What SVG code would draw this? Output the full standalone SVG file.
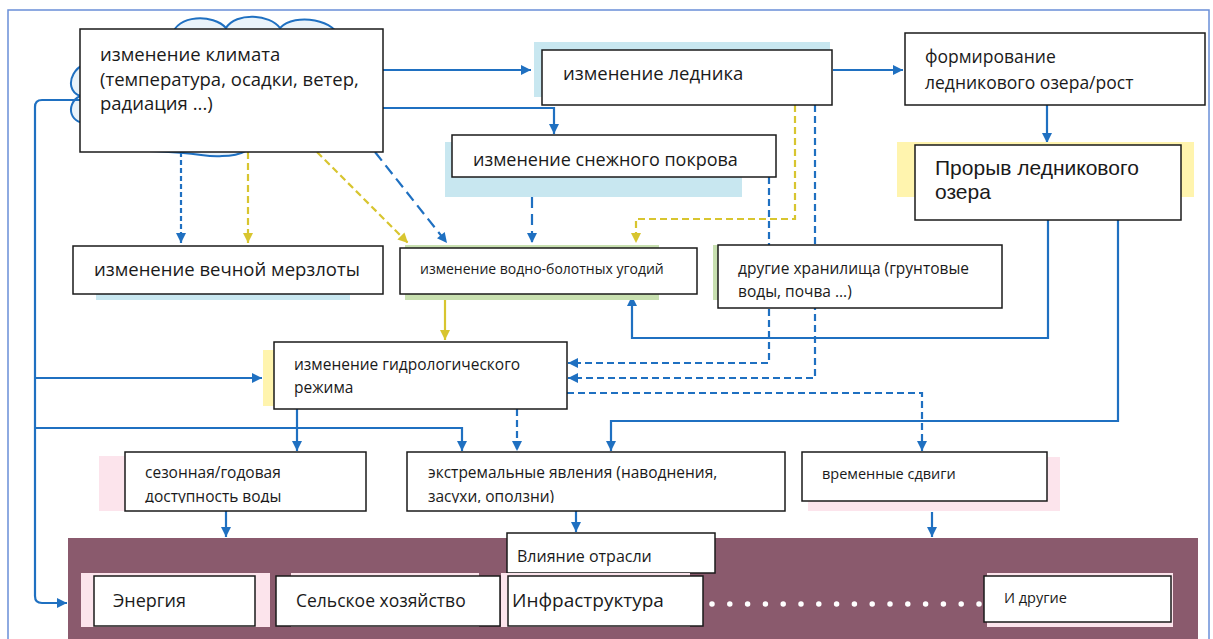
<svg xmlns="http://www.w3.org/2000/svg" width="1213" height="639" viewBox="0 0 1213 639">
<defs>
<style>
.box{fill:#fff;stroke:#1a1a1a;stroke-width:1.5}
.t{font-family:"Open Sans","Noto Sans",sans-serif;fill:#1a1a1a}
.ta{font-family:"Liberation Sans",Arial,sans-serif;fill:#1a1a1a}
.c{fill:none;stroke:#1F70C1;stroke-width:2.2}
.cy{fill:none;stroke:#D8C52F;stroke-width:2.2}
.dot{stroke-dasharray:5 3}
.dsh{stroke-dasharray:7 4}
.lng{stroke-dasharray:11 6}
.lb{fill:#C8E7F0}
.yb{fill:#FFF4AE}
.gb{fill:#C8E0B0}
.pb{fill:#FCE4EC}
</style>
<marker id="ab" viewBox="0 0 10 10" refX="10" refY="5" markerWidth="11" markerHeight="10" markerUnits="userSpaceOnUse" orient="auto"><path d="M0,0 L10,5 L0,10 Z" fill="#1F70C1"/></marker>
<marker id="ay" viewBox="0 0 10 10" refX="10" refY="5" markerWidth="11" markerHeight="10" markerUnits="userSpaceOnUse" orient="auto"><path d="M0,0 L10,5 L0,10 Z" fill="#D8C52F"/></marker>
<clipPath id="clipS"><rect x="125" y="452" width="241" height="51"/></clipPath>
<clipPath id="clipE"><rect x="407" y="452" width="378" height="51"/></clipPath>
</defs>
<rect width="1213" height="639" fill="#fff"/>
<rect x="8" y="10" width="1201" height="640" fill="none" stroke="#6A8FD8" stroke-width="1.5"/>

<g id="cloud">
<path d="M100,64 C76,56 60,88 80,96 C64,104 70,128 92,122 L100,150 C200,150 202,158 222,156 C238,156 244,152 248,150 L330,150 L340,40 C338,20 295,12 280,28 C270,14 236,12 226,28 C214,14 176,14 172,36 Z" fill="#E9F3FA" stroke="#1F70C1" stroke-width="2"/>
</g>

<g id="sector-panel">
<rect x="68" y="538" width="1130" height="101" fill="#8A5A6D"/>
</g>

<g id="connectors">
<path class="c" d="M383,70 L531,70" marker-end="url(#ab)"/>
<path class="c" d="M383,108 L554,108 L554,134" marker-end="url(#ab)"/>
<path class="c" d="M833,70 L903,70" marker-end="url(#ab)"/>
<path class="c" d="M1047,105 L1047,143" marker-end="url(#ab)"/>
<path class="c" d="M1048,220 L1048,338 L632,338 L632,296" marker-end="url(#ab)"/>
<path class="c" d="M1118,220 L1118,421 L611,421 L611,451" marker-end="url(#ab)"/>
<path class="c dot" d="M181,152 L181,243" marker-end="url(#ab)"/>
<path class="cy dsh" d="M248,152 L248,243" marker-end="url(#ay)"/>
<path class="cy dsh" d="M317,152 L408,243" marker-end="url(#ay)"/>
<path class="c lng" d="M375,152 L447,243" marker-end="url(#ab)"/>
<path class="c lng" d="M532,197 L532,243" marker-end="url(#ab)"/>
<path class="cy dsh" d="M795,105 L795,219 L636,219 L636,243" marker-end="url(#ay)"/>
<path class="c dsh" d="M815,105 L815,378 L568,378" marker-end="url(#ab)"/>
<path class="c dsh" d="M769,177 L769,363 L568,363" marker-end="url(#ab)"/>
<path class="cy" d="M445,294 L445,340" marker-end="url(#ay)"/>
<path class="c" d="M80,100 L42,100 Q35,100 35,107 L35,596 Q35,603 42,603 L67,603" marker-end="url(#ab)"/>
<path class="c" d="M35,378 L262,378" marker-end="url(#ab)"/>
<path class="c" d="M35,428 L462,428 L462,451" marker-end="url(#ab)"/>
<path class="c" d="M297,409 L297,451" marker-end="url(#ab)"/>
<path class="c dsh" d="M517,409 L517,451" marker-end="url(#ab)"/>
<path class="c dsh" d="M567,393 L922,393 L922,451" marker-end="url(#ab)"/>
<path class="c" d="M226,511 L226,537" marker-end="url(#ab)"/>
<path class="c" d="M576,511 L576,532" marker-end="url(#ab)"/>
<path class="c" d="M932,512 L932,537" marker-end="url(#ab)"/>
</g>

<g id="climate">
<rect class="box" x="80" y="29" width="303" height="123"/>
<text class="t" font-size="18.5"><tspan x="100" y="61">изменение климата</tspan><tspan x="100" y="86">(температура, осадки, ветер,</tspan><tspan x="100" y="110">радиация ...)</tspan></text>
</g>

<g id="glacier">
<rect class="lb" x="534" y="42" width="296" height="55"/>
<rect class="box" x="542" y="50" width="290" height="55"/>
<text class="t" font-size="18.5" x="563" y="80">изменение ледника</text>
</g>

<g id="snow">
<rect class="lb" x="445" y="142" width="297" height="55"/>
<rect class="box" x="452" y="135" width="324" height="42"/>
<text class="t" font-size="18" x="473" y="166">изменение снежного покрова</text>
</g>

<g id="lake">
<rect class="box" x="905" y="33" width="300" height="72"/>
<text class="t" font-size="17.5"><tspan x="925" y="63">формирование</tspan><tspan x="925" y="89">ледникового озера/рост</tspan></text>
</g>

<g id="glof">
<rect class="yb" x="897" y="142" width="297" height="55"/>
<rect class="box" x="915" y="145" width="266" height="75"/>
<text class="ta" font-size="21"><tspan x="935" y="175">Прорыв ледникового</tspan><tspan x="935" y="199">озера</tspan></text>
</g>

<g id="permafrost">
<rect class="lb" x="96" y="292" width="254" height="8"/>
<rect class="box" x="73" y="246" width="310" height="48"/>
<text class="t" font-size="18.5" x="94" y="276">изменение вечной мерзлоты</text>
</g>

<g id="wetlands">
<rect class="gb" x="405" y="245" width="254" height="55"/>
<rect class="box" x="400" y="248" width="297" height="46"/>
<text class="t" font-size="14" x="420" y="274">изменение водно-болотных угодий</text>
</g>

<g id="storage">
<rect class="gb" x="713" y="245" width="8" height="55"/>
<rect class="box" x="718" y="245" width="284" height="63"/>
<text class="t" font-size="15.5"><tspan x="738" y="274">другие хранилища (грунтовые</tspan><tspan x="738" y="297">воды, почва ...)</tspan></text>
</g>

<g id="hydro">
<rect class="yb" x="263" y="350" width="14" height="56"/>
<rect class="box" x="274" y="342" width="293" height="67"/>
<text class="t" font-size="15.5"><tspan x="294" y="370">изменение гидрологического</tspan><tspan x="294" y="393">режима</tspan></text>
</g>

<g id="seasonal">
<rect class="pb" x="99" y="456" width="30" height="55"/>
<rect class="box" x="125" y="452" width="241" height="59"/>
<text class="t" font-size="15.5" clip-path="url(#clipS)"><tspan x="145" y="478">сезонная/годовая</tspan><tspan x="145" y="502">доступность воды</tspan></text>
</g>

<g id="extreme">
<rect class="box" x="407" y="452" width="378" height="59"/>
<text class="t" font-size="15.5" clip-path="url(#clipE)"><tspan x="428" y="478">экстремальные явления (наводнения,</tspan><tspan x="428" y="502">засухи, оползни)</tspan></text>
</g>

<g id="timeshift">
<rect class="pb" x="808" y="457" width="252" height="54"/>
<rect class="box" x="802" y="452" width="245" height="49"/>
<text class="t" font-size="14.5" x="822" y="479">временные сдвиги</text>
</g>

<g id="sector-impact">
<rect class="box" x="507" y="533" width="208" height="40"/>
<text class="t" font-size="16" x="517" y="562">Влияние отрасли</text>
</g>

<g id="energy">
<rect class="pb" x="81" y="573" width="189" height="54"/>
<rect class="box" x="94" y="576" width="161" height="50"/>
<text class="t" font-size="18" x="113" y="607">Энергия</text>
</g>

<g id="agriculture">
<rect class="pb" x="291" y="573" width="188" height="54"/>
<rect class="box" x="276" y="576" width="224" height="50"/>
<text class="t" font-size="17.5" x="296" y="607">Сельское хозяйство</text>
</g>

<g id="infrastructure">
<rect class="pb" x="501" y="573" width="189" height="54"/>
<rect class="box" x="508" y="576" width="195" height="50"/>
<text class="t" font-size="19" x="512" y="607">Инфраструктура</text>
</g>

<g id="dots">
<line x1="712" y1="604" x2="980" y2="604" stroke="#fff" stroke-width="5.5" stroke-linecap="round" stroke-dasharray="0 17.8"/>
</g>

<g id="others">
<rect class="pb" x="987" y="573" width="186" height="54"/>
<rect class="box" x="984" y="576" width="187" height="46"/>
<text class="t" font-size="14.5" x="1004" y="603">И другие</text>
</g>
</svg>
